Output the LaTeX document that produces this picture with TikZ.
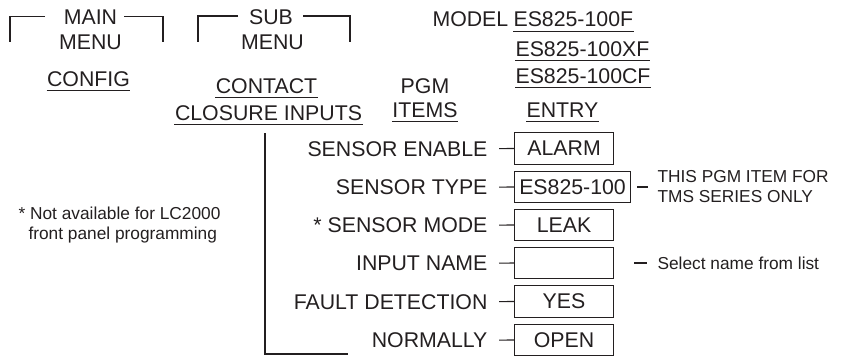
\documentclass[tikz,border=0pt]{standalone}
\usepackage{fontspec}
\setmainfont{Liberation Sans}
\definecolor{ink}{HTML}{231F20}

\begin{document}
\begin{tikzpicture}[x=1pt, y=-1pt, line width=1.1pt, color=ink,
  big/.style={font=\fontsize{21.3}{24}\selectfont, inner sep=0pt},
  small/.style={font=\fontsize{17.3}{20}\selectfont, inner sep=0pt},
  entrybox/.style={big, draw, anchor=west, minimum width=99pt, minimum height=31.5pt},
  item/.style={big, anchor=base east},
  link/.style={shorten <=11pt}]
  \useasboundingbox (0,0) rectangle (843,356);
  % menu headings
  \node[big, anchor=base] (mainT) at (90.5,24) {MAIN};
  \node[big, anchor=base] (mainB) at (90.5,49) {MENU};
  \node[big, anchor=base] (subT) at (271,24) {SUB};
  \node[big, anchor=base] (subB) at (272.5,49) {MENU};
  \draw (45,16.5) -| (10,42);
  \draw (124,16.5) -| (163,42);
  \draw (238,16) -| (198,42);
  \draw (303,16) -| (350,42);
  % column heads
  \node[big, anchor=base] (cfg) at (88.5,86) {CONFIG};
  \node[big, anchor=base] (cont) at (266.5,93) {CONTACT};
  \node[big, anchor=base] (clos) at (268.5,120) {CLOSURE INPUTS};
  \node[big, anchor=base] (pgm) at (425,93) {PGM};
  \node[big, anchor=base] (items) at (425,117) {ITEMS};
  \node[big, anchor=base] (entry) at (562.5,117) {ENTRY};
  \node[big, anchor=base west] (model) at (432,27) {MODEL};
  \node[big, anchor=base west] (mf) at (513,27) {ES825-100F};
  \node[big, anchor=base west] (mxf) at (515,56) {ES825-100XF};
  \node[big, anchor=base west] (mcf) at (515,83) {ES825-100CF};
  \foreach \n in {cfg,cont,clos,items,entry,mf,mxf,mcf}
    \draw ([yshift=-4.5pt]\n.base west) -- ([yshift=-4.5pt]\n.base east);
  % tree
  \draw (265,133) |- (348,354);
  % pgm items
  \node[entrybox] (e1) at (514,148.5) {ALARM};
  \node[item] (i1) at (488,156) {SENSOR ENABLE};
  \node[entrybox, minimum width=116pt] (e2) at (514,187) {ES825-100};
  \node[item] (i2) at (488,194.5) {SENSOR TYPE};
  \node[entrybox] (e3) at (514,225) {LEAK};
  \node[item] (i3) at (488,232.5) {* SENSOR MODE};
  \node[entrybox] (e4) at (514,263) {};
  \node[item] (i4) at (488,270.5) {INPUT NAME};
  \node[entrybox] (e5) at (514,301.5) {YES};
  \node[item] (i5) at (488,309) {FAULT DETECTION};
  \node[entrybox] (e6) at (514,340) {OPEN};
  \node[item] (i6) at (488,347.5) {NORMALLY};
  \foreach \k in {1,...,6}
    \draw[link] (i\k.east) -- (e\k.west);
  % notes
  \node[small, anchor=west, align=left] (tms) at (657,187) {THIS PGM ITEM FOR\\TMS SERIES ONLY};
  \draw[shorten <=6pt, shorten >=9pt] (e2.east) -- (tms.west);
  \node[small, anchor=west] (sel) at (657,263) {Select name from list};
  \draw[shorten <=20pt, shorten >=10pt] (e4.east) -- (sel.west);
  \node[small, anchor=north west, align=left] (lc) at (18,206) {* Not available for LC2000\\\hspace{10pt}front panel programming};
\end{tikzpicture}
\end{document}
